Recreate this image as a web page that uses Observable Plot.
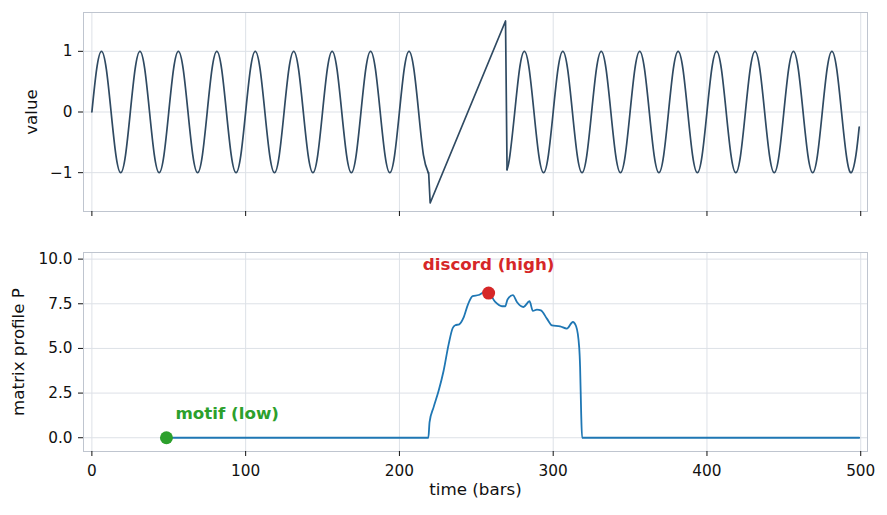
<!DOCTYPE html>
<html>
<head>
<meta charset="utf-8">
<script src="https://cdn.jsdelivr.net/npm/d3@7"></script>
<script src="https://cdn.jsdelivr.net/npm/@observablehq/plot@0.6"></script>
<style>
  html, body { margin: 0; padding: 0; background: #fff; }
  #chart svg { display: block; }
</style>
</head>
<body>
<div id="chart"></div>
<script>
// ---- top panel: series values ----
const wave1T = [
  0, 3.125, 6.25, 9.375, 12.5, 15.625, 18.75, 21.875,
  25, 28.125, 31.25, 34.375, 37.5, 40.625, 43.75, 46.875,
  50, 53.125, 56.25, 59.375, 62.5, 65.625, 68.75, 71.875,
  75, 78.125, 81.25, 84.375, 87.5, 90.625, 93.75, 96.875,
  100, 103.125, 106.25, 109.375, 112.5, 115.625, 118.75, 121.875,
  125, 128.125, 131.25, 134.375, 137.5, 140.625, 143.75, 146.875,
  150, 153.125, 156.25, 159.375, 162.5, 165.625, 168.75, 171.875,
  175, 178.125, 181.25, 184.375, 187.5, 190.625, 193.75, 196.875,
  200, 203.125, 206.25, 209.375, 212.5, 215.625, 218.75
];
const wave1V = [
  0, 0.71, 1, 0.71, 0, -0.71, -1, -0.71,
  0, 0.71, 1, 0.71, 0, -0.71, -1, -0.71,
  0, 0.71, 1, 0.71, 0, -0.71, -1, -0.71,
  0, 0.71, 1, 0.71, 0, -0.71, -1, -0.71,
  0, 0.71, 1, 0.71, 0, -0.71, -1, -0.71,
  0, 0.71, 1, 0.71, 0, -0.71, -1, -0.71,
  0, 0.71, 1, 0.71, 0, -0.71, -1, -0.71,
  0, 0.71, 1, 0.71, 0, -0.71, -1, -0.71,
  0, 0.71, 1, 0.71, 0, -0.71, -1
];
const anomalyT = [218.75, 219, 220, 269, 270];
const anomalyV = [-1, -1, -1.5, 1.5, -0.95];
const wave2T = [
  270,
  271.875, 275, 278.125, 281.25, 284.375, 287.5, 290.625, 293.75,
  296.875, 300, 303.125, 306.25, 309.375, 312.5, 315.625, 318.75,
  321.875, 325, 328.125, 331.25, 334.375, 337.5, 340.625, 343.75,
  346.875, 350, 353.125, 356.25, 359.375, 362.5, 365.625, 368.75,
  371.875, 375, 378.125, 381.25, 384.375, 387.5, 390.625, 393.75,
  396.875, 400, 403.125, 406.25, 409.375, 412.5, 415.625, 418.75,
  421.875, 425, 428.125, 431.25, 434.375, 437.5, 440.625, 443.75,
  446.875, 450, 453.125, 456.25, 459.375, 462.5, 465.625, 468.75,
  471.875, 475, 478.125, 481.25, 484.375, 487.5, 490.625, 493.75,
  496.875, 499
];
const wave2V = [
  -0.95,
  -0.71, 0, 0.71, 1, 0.71, 0, -0.71, -1,
  -0.71, 0, 0.71, 1, 0.71, 0, -0.71, -1,
  -0.71, 0, 0.71, 1, 0.71, 0, -0.71, -1,
  -0.71, 0, 0.71, 1, 0.71, 0, -0.71, -1,
  -0.71, 0, 0.71, 1, 0.71, 0, -0.71, -1,
  -0.71, 0, 0.71, 1, 0.71, 0, -0.71, -1,
  -0.71, 0, 0.71, 1, 0.71, 0, -0.71, -1,
  -0.71, 0, 0.71, 1, 0.71, 0, -0.71, -1,
  -0.71, 0, 0.71, 1, 0.71, 0, -0.71, -1,
  -0.71, -0.25
];

// ---- bottom panel: matrix profile ----
const profT = [48, 218.8, 219.6, 222.2, 225.5, 228.7, 232, 234.6, 236.3, 238.9, 241.7, 244.6, 247.6, 251.5, 254.8, 258,
  262.3, 266.7, 268.8, 270.3, 273.8, 276.4, 280.7, 284.6, 286.8, 289.4, 292, 295.9, 299.2, 304.5, 308.9, 312.8,
  314.9, 316.9, 317.5, 318.2, 318.8, 499];
const profV = [0, 0, 0.87, 1.7, 2.63, 3.74, 5.23, 6.13, 6.3, 6.35, 6.72, 7.47, 7.93, 7.99, 8.12, 8.1,
  7.6, 7.36, 7.36, 7.74, 7.98, 7.6, 7.32, 7.64, 7.1, 7.17, 7.13, 6.67, 6.29, 6.24, 6.11, 6.48,
  6.24, 5.07, 3.95, 1.35, 0, 0];
const motifT = 48.5, motifV = 0;
const discordT = 258, discordV = 8.1;

// ---- ticks / labels ----
const xTicks = [0, 100, 200, 300, 400, 500];
const topYTicks = [-1, 0, 1];
const botYTicks = [0, 2.5, 5, 7.5, 10];
const topYLabel = "value";
const botYLabel = "matrix profile P";
const xLabel = "time (bars)";
const discordLabel = "discord (high)";
const motifLabel = "motif (low)";

// ---- build rows ----
const waveRows = [
  ...wave1T.map((t, i) => ({t, v: wave1V[i], seg: "a"})),
  ...wave2T.map((t, i) => ({t, v: wave2V[i], seg: "b"}))
];
const anomalyRows = anomalyT.map((t, i) => ({t, v: anomalyV[i]}));
const profRows = profT.map((t, i) => ({t, v: profV[i]}));

const gridColor = "#dde1e7";
const frameColor = "#bfc5cf";
const labelSize = 16.7;
const font = {fontFamily: "DejaVu Sans", fontSize: "15.3px", color: "#111", background: "#fff", overflow: "visible"};
const xDomain = [-5.45, 504.4];
const minus = d => (d < 0 ? "\u2212" + Math.abs(d) : String(d));

const topPlot = Plot.plot({
  width: 887, height: 232,
  marginTop: 12, marginBottom: 21, marginLeft: 83, marginRight: 20,
  style: font,
  x: {domain: xDomain},
  y: {domain: [-1.64, 1.64]},
  marks: [
    Plot.gridX(xTicks, {stroke: gridColor, strokeOpacity: 1}),
    Plot.gridY(topYTicks, {stroke: gridColor, strokeOpacity: 1}),
    Plot.frame({stroke: frameColor}),
    Plot.axisX(xTicks, {tickSize: 5, tickFormat: () => "", label: null}),
    Plot.axisY(topYTicks, {tickSize: 5, tickPadding: 6, tickFormat: minus, label: null}),
    Plot.line(waveRows, {x: "t", y: "v", z: "seg", curve: "natural", stroke: "#2f4a62", strokeWidth: 1.7}),
    Plot.line(anomalyRows, {x: "t", y: "v", stroke: "#2f4a62", strokeWidth: 1.7}),
    Plot.text([topYLabel], {text: d => d, frameAnchor: "left", textAnchor: "middle", dx: -51.6, rotate: -90, fontSize: labelSize, fill: "#111"})
  ]
});

const botPlot = Plot.plot({
  width: 887, height: 283,
  marginTop: 20, marginBottom: 64, marginLeft: 83, marginRight: 20,
  style: font,
  x: {domain: xDomain},
  y: {domain: [-0.77, 10.37]},
  marks: [
    Plot.gridX(xTicks, {stroke: gridColor, strokeOpacity: 1}),
    Plot.gridY(botYTicks, {stroke: gridColor, strokeOpacity: 1}),
    Plot.frame({stroke: frameColor}),
    Plot.axisX(xTicks, {tickSize: 5, tickPadding: 9, label: null}),
    Plot.axisY(botYTicks, {tickSize: 5, tickPadding: 6, tickFormat: d => d.toFixed(1), label: null}),
    Plot.line(profRows, {x: "t", y: "v", curve: "monotone-x", stroke: "#1f77b4", strokeWidth: 1.8}),
    Plot.dot([{t: motifT, v: motifV}], {x: "t", y: "v", r: 6.5, fill: "#2ca02c", stroke: "none"}),
    Plot.dot([{t: discordT, v: discordV}], {x: "t", y: "v", r: 6.5, fill: "#d62728", stroke: "none"}),
    Plot.text([{t: discordT, v: discordV}], {x: "t", y: "v", text: () => discordLabel, dy: -28, fontSize: labelSize, fill: "#d62728", fontWeight: "bold"}),
    Plot.text([{t: motifT, v: motifV}], {x: "t", y: "v", text: () => motifLabel, dx: 9, dy: -24, textAnchor: "start", fontSize: labelSize, fill: "#2ca02c", fontWeight: "bold"}),
    Plot.text([botYLabel], {text: d => d, frameAnchor: "left", textAnchor: "middle", dx: -64.5, rotate: -90, fontSize: labelSize, fill: "#111"}),
    Plot.text([xLabel], {text: d => d, frameAnchor: "bottom", dy: 43.5, fontSize: labelSize, fill: "#111"})
  ]
});

const chart = document.getElementById("chart");
chart.append(topPlot, botPlot);
</script>
</body>
</html>
